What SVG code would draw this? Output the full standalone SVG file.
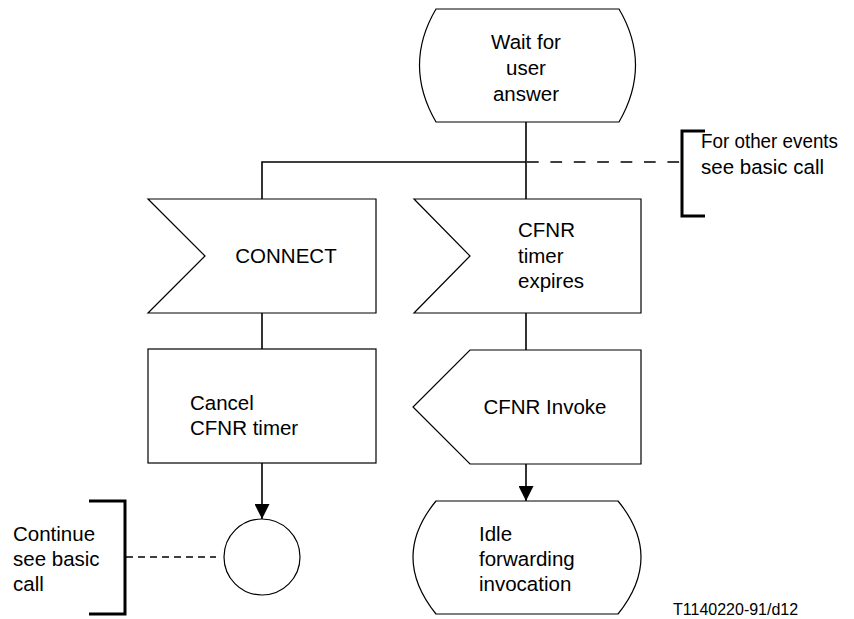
<svg xmlns="http://www.w3.org/2000/svg" width="854" height="619" viewBox="0 0 854 619">
<style>
.s{fill:#fff;stroke:#000;stroke-width:1.2}
.t{font-family:"Liberation Sans",Arial,sans-serif;font-size:20.5px;fill:#000}
.c{fill:none;stroke:#000;stroke-width:1.6}
.d{fill:none;stroke:#000;stroke-width:1.3;stroke-dasharray:11.7,11.7}
.d2{fill:none;stroke:#000;stroke-width:1.3;stroke-dasharray:7,5}
.b{fill:none;stroke:#000;stroke-width:3}
</style>
<defs>
<marker id="ah" markerWidth="15" markerHeight="15" refX="15" refY="7.5" orient="auto" markerUnits="userSpaceOnUse" viewBox="0 0 15 15">
<path d="M0,0 L15,7.5 L0,15 z" fill="#000"/>
</marker>
</defs>
<rect width="854" height="619" fill="#fff"/>
<g id="connectors">
<path class="c" d="M526,122 V199"/>
<path class="c" d="M526,162 H262 V199"/>
<path class="d" d="M527,162 H682"/>
<path class="c" d="M262,313 V349"/>
<path class="c" d="M526,313 V350"/>
<path class="c" d="M262,463 V519" marker-end="url(#ah)"/>
<path class="c" d="M526,464 V501" marker-end="url(#ah)"/>
<path class="d2" d="M126,557 H216"/>
</g>
<g id="wait">
<path class="s" d="M436,9 H619 Q652,65 619,122 H436 Q403,65 436,9 Z"/>
<text class="t" text-anchor="middle"><tspan x="526" y="49">Wait for</tspan><tspan x="526" y="75">user</tspan><tspan x="526" y="101">answer</tspan></text>
</g>
<g id="connect">
<path class="s" d="M148,199 H376 V313 H148 L205,256 Z"/>
<text class="t" x="286" y="263" text-anchor="middle">CONNECT</text>
</g>
<g id="timer">
<path class="s" d="M414,199 H641 V313 H414 L470,256 Z"/>
<text class="t"><tspan x="518" y="237">CFNR</tspan><tspan x="518" y="263">timer</tspan><tspan x="518" y="288">expires</tspan></text>
</g>
<g id="cancel">
<rect class="s" x="148" y="349" width="228" height="114"/>
<text class="t"><tspan x="190" y="410">Cancel</tspan><tspan x="190" y="435">CFNR timer</tspan></text>
</g>
<g id="invoke">
<path class="s" d="M470,350 H641 V464 H470 L413,407 Z"/>
<text class="t" x="545" y="414" text-anchor="middle">CFNR Invoke</text>
</g>
<g id="join">
<circle class="s" cx="262" cy="557" r="38"/>
</g>
<g id="idle">
<path class="s" d="M436,501 H618 Q664,557 618,614 H436 Q390,557 436,501 Z"/>
<text class="t"><tspan x="479" y="541">Idle</tspan><tspan x="479" y="566">forwarding</tspan><tspan x="479" y="591">invocation</tspan></text>
</g>
<g id="note1">
<path class="b" d="M705,131 H682 V216 H705"/>
<text class="t"><tspan x="701" y="148" textLength="137" lengthAdjust="spacingAndGlyphs">For other events</tspan><tspan x="701" y="174">see basic call</tspan></text>
</g>
<g id="note2">
<path class="b" d="M89,501 H125 V614 H89"/>
<text class="t"><tspan x="13" y="541">Continue</tspan><tspan x="13" y="566">see basic</tspan><tspan x="13" y="591">call</tspan></text>
</g>
<text x="673" y="615" font-family="Liberation Sans,Arial,sans-serif" font-size="16" fill="#000">T1140220-91/d12</text>
</svg>
